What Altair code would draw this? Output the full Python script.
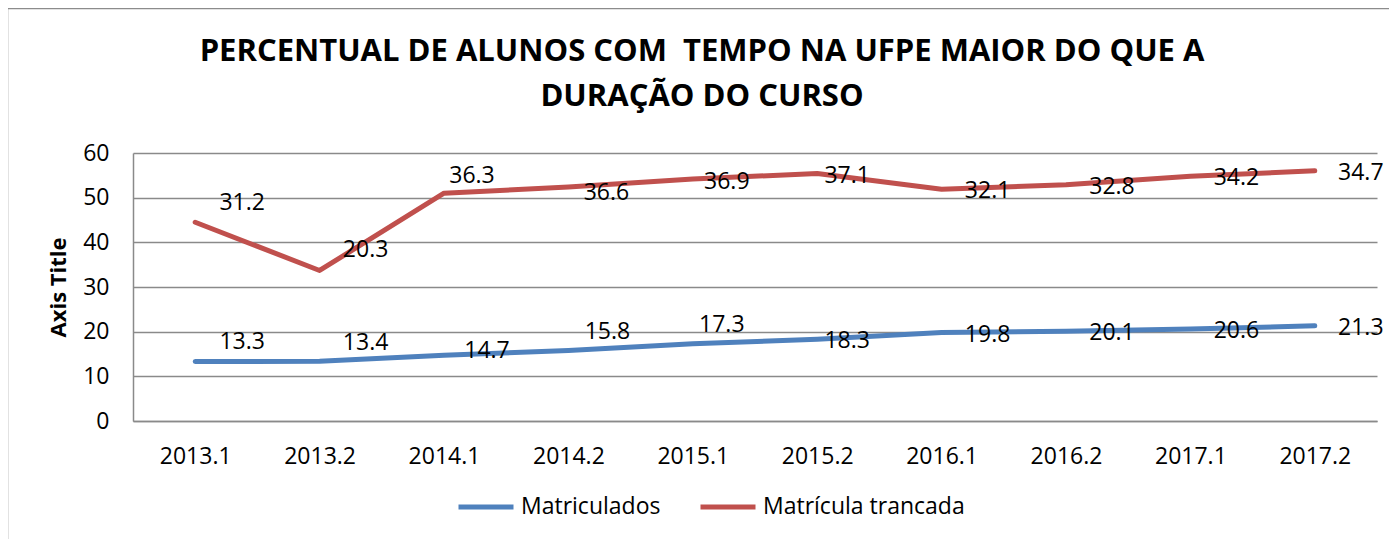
import altair as alt
import pandas as pd

periods = ["2013.1", "2013.2", "2014.1", "2014.2", "2015.1",
           "2015.2", "2016.1", "2016.2", "2017.1", "2017.2"]
matriculados = [13.3, 13.4, 14.7, 15.8, 17.3, 18.3, 19.8, 20.1, 20.6, 21.3]
trancada = [31.2, 20.3, 36.3, 36.6, 36.9, 37.1, 32.1, 32.8, 34.2, 34.7]
series_names = ["Matriculados", "Matrícula trancada"]
series_colors = ["#4F81BD", "#C0504D"]
y_ticks = [0, 10, 20, 30, 40, 50, 60]
title_lines = ["PERCENTUAL DE ALUNOS COM \u00a0TEMPO NA UFPE MAIOR DO QUE A",
               "DURAÇÃO DO CURSO"]

# label nudges in px (style only), reproducing the hand-placed data labels
mat_dx = [47, 46, 43, 39, 29, 30, 46, 46, 46, 46]
mat_dy = [-20, -18, -4, -18, -19, 2, 2, 2, 2, 2]
tra_dx = [47, 46, 28, 38, 34, 30, 46, 46, 46, 46]
tra_dy = [-19, -20, -17, 6, 3, 2, 2, 2, 2, 2]

rows = []
for i, p in enumerate(periods):
    rows.append({"period": p, "series": series_names[0], "value": matriculados[i],
                 "k": 0, "ldx": mat_dx[i], "ldy": mat_dy[i]})
    rows.append({"period": p, "series": series_names[1], "value": trancada[i],
                 "k": 1, "ldx": tra_dx[i], "ldy": tra_dy[i]})
df = pd.DataFrame(rows)

FONT = "Open Sans"
GRID = "#8a8a8a"
W, H = 1244, 268

base = alt.Chart(df).transform_stack(
    stack="value", groupby=["period"], as_=["y0", "y1"],
    sort=[alt.SortField("k", order="ascending")]
)

x_enc = alt.X("period:N", sort=periods, title=None,
              axis=alt.Axis(labelAngle=0, ticks=False, tickSize=0, grid=False,
                            domainColor=GRID, domainWidth=1.5,
                            labelFont=FONT, labelFontSize=23, labelColor="black",
                            labelPadding=24))
y_enc = alt.Y("y1:Q", title="Axis Title",
              scale=alt.Scale(domain=[0, 60], nice=False, zero=True),
              axis=alt.Axis(values=y_ticks, ticks=False, tickSize=0,
                            gridColor=GRID, gridWidth=1.5,
                            domainColor=GRID, domainWidth=1.5,
                            labelFont=FONT, labelFontSize=23, labelColor="black",
                            labelPadding=24,
                            titleFont=FONT, titleFontSize=22, titleFontWeight="bold",
                            titleColor="black", titlePadding=12))

lines = base.mark_line(strokeWidth=5, strokeCap="round", strokeJoin="round").encode(
    x=x_enc, y=y_enc,
    color=alt.Color("series:N",
                    scale=alt.Scale(domain=series_names, range=series_colors),
                    legend=alt.Legend(orient="none", legendX=323, legendY=324,
                                      direction="horizontal", title=None,
                                      symbolType="stroke", symbolStrokeWidth=5,
                                      symbolSize=3025, labelFont=FONT,
                                      labelFontSize=23, labelColor="black",
                                      labelLimit=400,
                                      labelOffset=5, columnPadding=29)),
)

labels = base.mark_text(font=FONT, fontSize=23, color="black", align="center",
                        baseline="middle",
                        dx=alt.ExprRef(expr="datum.ldx"),
                        dy=alt.ExprRef(expr="datum.ldy")).encode(
    x=alt.X("period:N", sort=periods),
    y=alt.Y("y1:Q"),
    text=alt.Text("value:Q", format=".1f"),
)

frame_data = alt.Data(values=[{"f": 1}])
frame_left = alt.Chart(frame_data).mark_rule(color="#8c8c8c", strokeWidth=1.5).encode(
    x=alt.value(-125.5), y=alt.value(-144.5), y2=alt.value(H + 130))
frame_top = alt.Chart(frame_data).mark_rule(color="#8c8c8c", strokeWidth=1.5).encode(
    x=alt.value(-125.5), x2=alt.value(W + 20), y=alt.value(-144.5))

chart = alt.layer(frame_left, frame_top, lines, labels).properties(
    width=W, height=H,
    autosize=alt.AutoSizeParams(type="none"),
    padding={"left": 125, "top": 145, "right": 12, "bottom": 118},
    title=alt.TitleParams(text=title_lines, font=FONT, fontSize=31, fontWeight="bold",
                          color="black", anchor="middle", dx=-53, offset=-105,
                          baseline="top", lineHeight=45),
).configure_view(stroke=None)

chart.save("out.html", embed_options={"renderer": "svg", "actions": False})
